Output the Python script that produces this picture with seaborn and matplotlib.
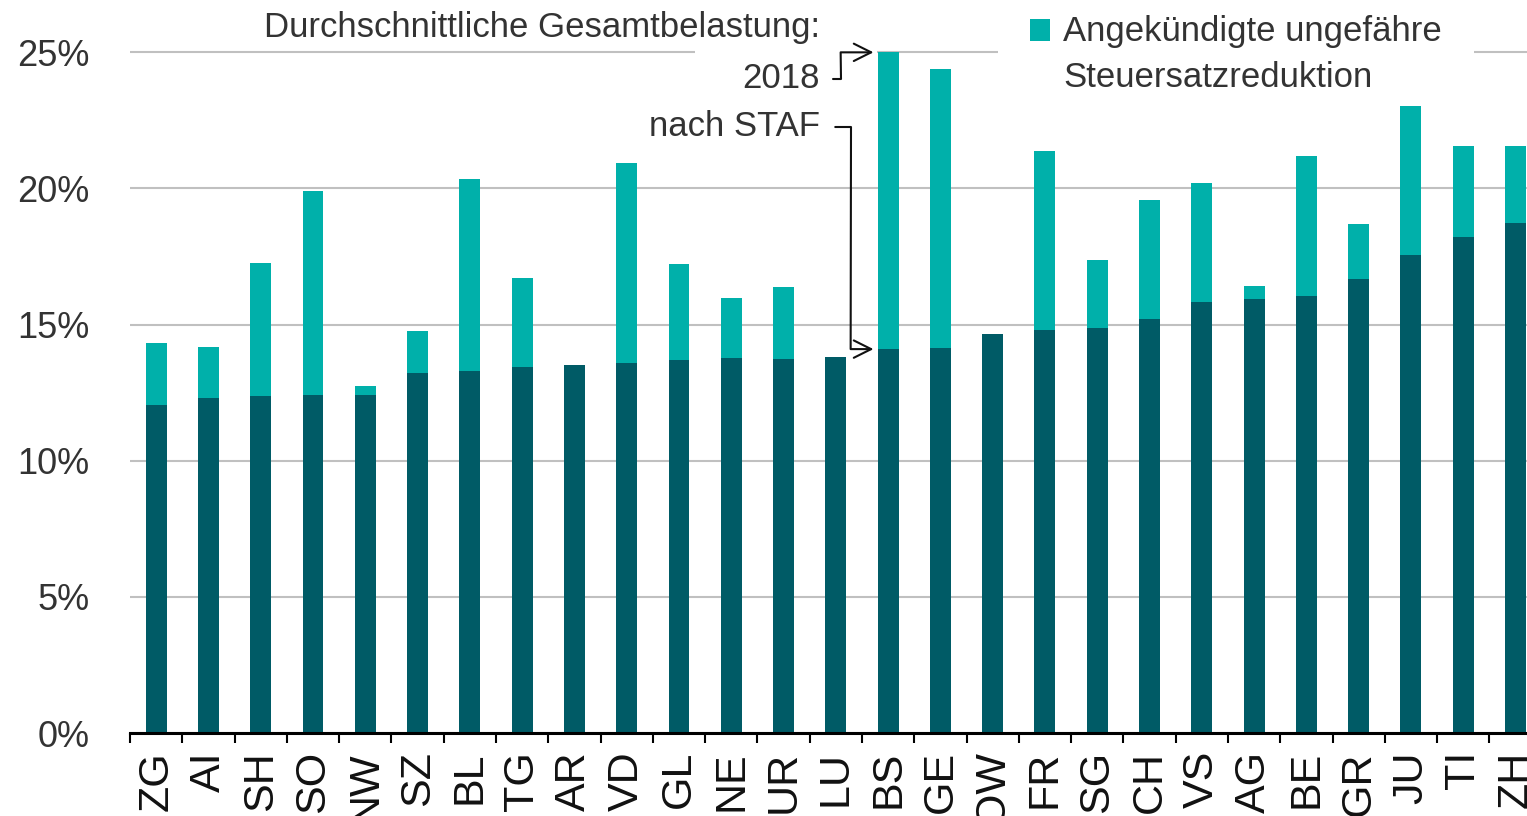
import numpy as np
import pandas as pd
import matplotlib
matplotlib.use("Agg")
import matplotlib.pyplot as plt
import matplotlib.patches as mpatches
from matplotlib.legend_handler import HandlerPatch
import seaborn as sns

cantons = ["ZG", "AI", "SH", "SO", "NW", "SZ", "BL", "TG", "AR", "VD", "GL", "NE", "UR", "LU",
           "BS", "GE", "OW", "FR", "SG", "CH", "VS", "AG", "BE", "GR", "JU", "TI", "ZH"]
rate_2018 = [14.31, 14.18, 17.27, 19.91, 12.75, 14.76, 20.35, 16.72, 13.51, 20.93, 17.23, 15.98, 16.37, 13.80,
             25.0, 24.39, 14.65, 21.38, 17.37, 19.57, 20.19, 16.43, 21.20, 18.69, 23.03, 21.57, 21.57]
rate_staf = [12.05, 12.30, 12.38, 12.41, 12.41, 13.24, 13.30, 13.45, 13.51, 13.58, 13.70, 13.79, 13.73, 13.80,
             14.10, 14.15, 14.65, 14.80, 14.86, 15.20, 15.82, 15.93, 16.06, 16.66, 17.55, 18.23, 18.72]
yticks = [0, 5, 10, 15, 20, 25]
ytick_labels = ["0%", "5%", "10%", "15%", "20%", "25%"]

LIGHT = "#00b0aa"
DARK = "#005b66"
TXT = "#333333"

df = pd.DataFrame({"canton": cantons, "r2018": rate_2018, "staf": rate_staf})

sns.set_theme(style="white")
plt.rcParams["font.family"] = ["Liberation Sans", "DejaVu Sans"]

fig = plt.figure(figsize=(15.27, 8.16), dpi=100)
ax = fig.add_axes([130 / 1527, 0.1017, 1 - 130 / 1527, 0.9392 - 0.1017])

sns.barplot(data=df, x="canton", y="r2018", order=cantons, color=LIGHT, saturation=1,
            width=0.4, errorbar=None, ax=ax, zorder=6, linewidth=0)
sns.barplot(data=df, x="canton", y="staf", order=cantons, color=DARK, saturation=1,
            width=0.4, errorbar=None, ax=ax, zorder=6, linewidth=0)

ax.set_xlim(-0.5, 26.22)
ax.set_ylim(0, 25.1)
ax.set_xlabel("")
ax.set_ylabel("")

ax.set_yticks(yticks)
ax.set_yticklabels(ytick_labels, fontsize=26, color=TXT)
ax.yaxis.grid(True, color="#c0c0c0", linewidth=1.5)
ax.xaxis.grid(False)
ax.set_axisbelow(True)
ax.tick_params(axis="y", length=0, pad=29)

ax.set_xticks(range(len(cantons)))
ax.set_xticklabels(cantons, rotation=90, fontsize=31, color="#111111",
                   family=["Liberation Sans Narrow", "Liberation Sans", "DejaVu Sans"])
ax.set_xticks(np.arange(-0.5, len(cantons) - 0.5, 1), minor=True)
ax.tick_params(axis="x", which="major", length=0, pad=13)
ax.tick_params(axis="x", which="minor", length=7, width=1.5, color="black", direction="out", bottom=True)

for s in ["top", "right", "left"]:
    ax.spines[s].set_visible(False)
ax.spines["bottom"].set_color("black")
ax.spines["bottom"].set_linewidth(2.2)
ax.spines["bottom"].set_zorder(7)

# white gap in top gridline behind annotation
gap = mpatches.Rectangle((0.4044, 24.7), 0.1303, 0.6, transform=ax.get_yaxis_transform(),
                         facecolor="white", edgecolor="none", zorder=2, clip_on=False)
ax.add_patch(gap)

fig.text(820 / 1527, 1 - 28 / 816, "Durchschnittliche Gesamtbelastung:", ha="right", va="center",
         fontsize=25, color=TXT)

bs = cantons.index("BS")
ax.annotate("2018", xy=(bs - 0.2, rate_2018[bs]), xycoords="data",
            xytext=(820 / 1527, 1 - 79 / 816), textcoords="figure fraction",
            ha="right", va="center", fontsize=25, color=TXT, zorder=8,
            arrowprops=dict(arrowstyle="->,head_length=0.5,head_width=0.25",
                            connectionstyle="arc,angleA=0,angleB=180,armA=21,armB=37,rad=0",
                            lw=1.5, color="#111111", shrinkA=7, shrinkB=3, relpos=(1, 0.5)))
ax.annotate("nach STAF", xy=(bs - 0.2, rate_staf[bs]), xycoords="data",
            xytext=(820 / 1527, 1 - 127 / 816), textcoords="figure fraction",
            ha="right", va="center", fontsize=25, color=TXT, zorder=8,
            arrowprops=dict(arrowstyle="->,head_length=0.5,head_width=0.25",
                            connectionstyle="arc,angleA=0,angleB=180,armA=31,armB=27,rad=0",
                            lw=1.5, color="#111111", shrinkA=8.6, shrinkB=3, relpos=(1, 0.5)))


def top_patch(legend, orig_handle, xdescent, ydescent, width, height, fontsize):
    return mpatches.Rectangle((-xdescent, -ydescent + 18.5), width, height)


handle = mpatches.Patch(facecolor=LIGHT, edgecolor="none")
leg = ax.legend([handle], ["Angekündigte ungefähre\nSteuersatzreduktion"],
                handler_map={mpatches.Patch: HandlerPatch(patch_func=top_patch)},
                loc="upper left", bbox_to_anchor=(998 / 1527, 1.0202), bbox_transform=fig.transFigure,
                fontsize=25, frameon=True, fancybox=False, framealpha=1, borderpad=0.92,
                handlelength=0.58, handleheight=0.58, handletextpad=0.375, borderaxespad=0)
leg.get_frame().set_facecolor("white")
leg.get_frame().set_edgecolor("none")
leg.set_zorder(5)
for t in leg.get_texts():
    t.set_color(TXT)
    t.set_linespacing(1.48)

fig.savefig("out.png", dpi=100)
